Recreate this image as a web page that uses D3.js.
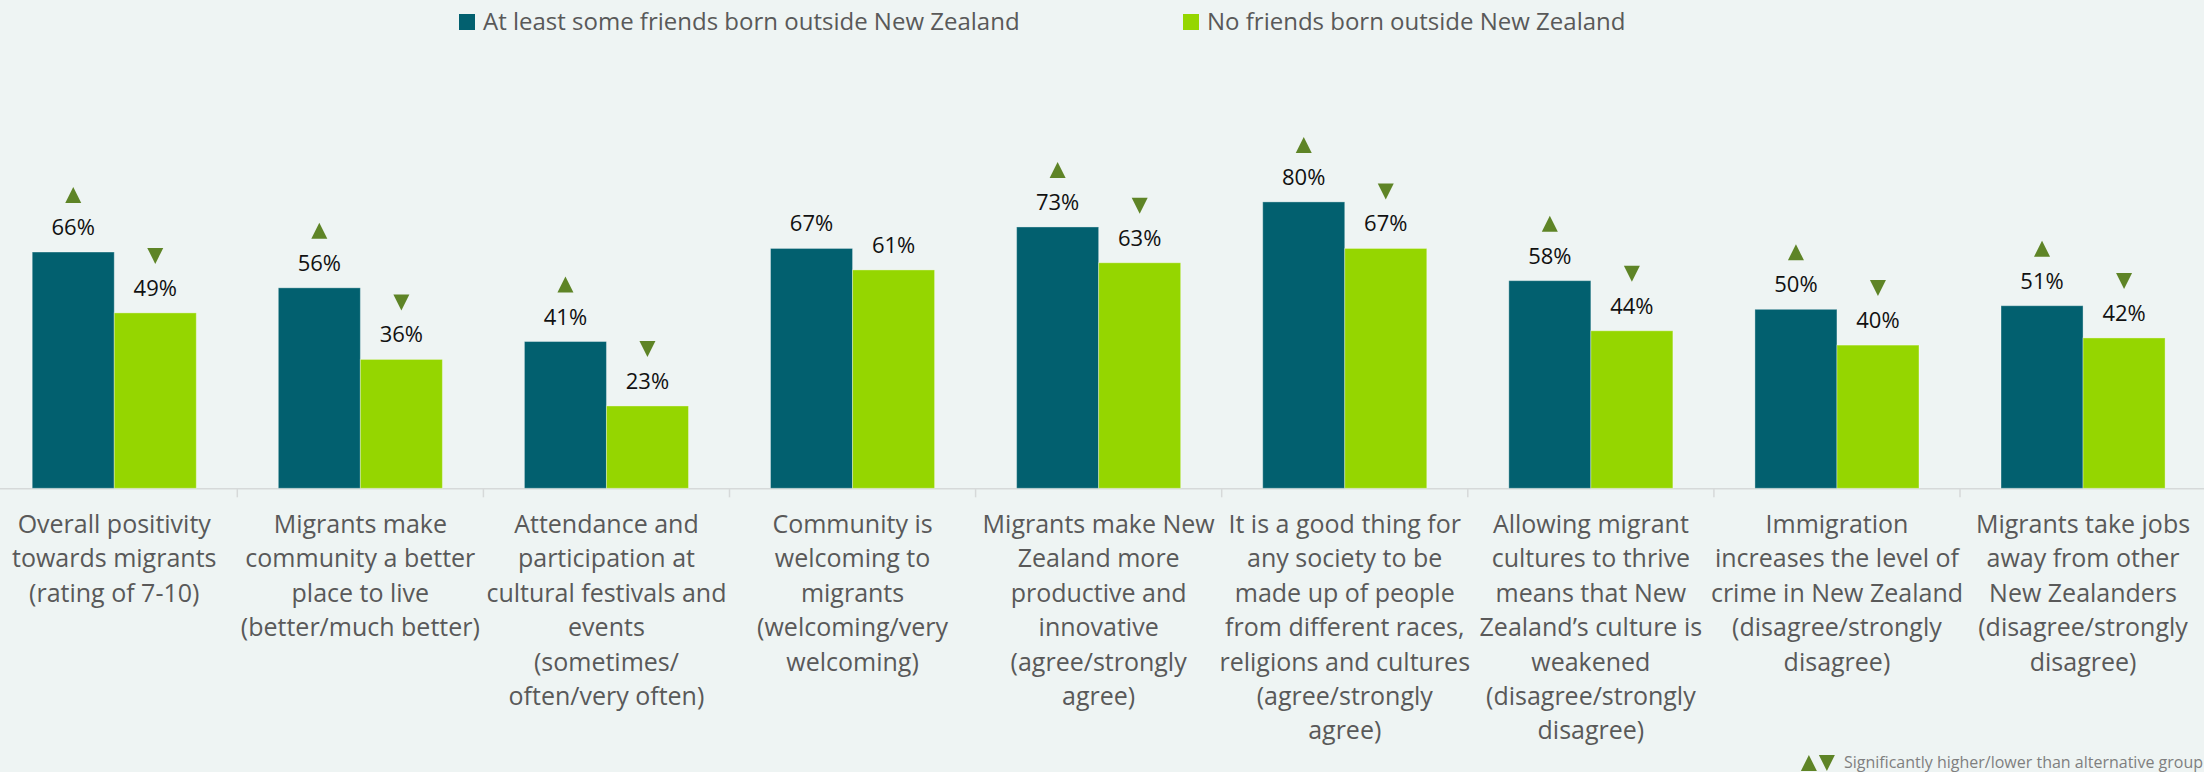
<!DOCTYPE html>
<html>
<head>
<meta charset="utf-8">
<script src="https://cdn.jsdelivr.net/npm/d3@7"></script>
<style>
  html, body { margin: 0; padding: 0; background: #eef4f3; }
  svg { display: block; }
</style>
</head>
<body>
<svg id="chart"></svg>
<script>
// data
const categoryLines = [
  ['Overall positivity', 'towards migrants', '(rating of 7-10)'],
  ['Migrants make', 'community a better', 'place to live', '(better/much better)'],
  ['Attendance and', 'participation at', 'cultural festivals and', 'events', '(sometimes/', 'often/very often)'],
  ['Community is', 'welcoming to', 'migrants', '(welcoming/very', 'welcoming)'],
  ['Migrants make New', 'Zealand more', 'productive and', 'innovative', '(agree/strongly', 'agree)'],
  ['It is a good thing for', 'any society to be', 'made up of people', 'from different races,', 'religions and cultures', '(agree/strongly', 'agree)'],
  ['Allowing migrant', 'cultures to thrive', 'means that New', 'Zealand\u2019s culture is', 'weakened', '(disagree/strongly', 'disagree)'],
  ['Immigration', 'increases the level of', 'crime in New Zealand', '(disagree/strongly', 'disagree)'],
  ['Migrants take jobs', 'away from other', 'New Zealanders', '(disagree/strongly', 'disagree)']
]
const seriesNames = ['At least some friends born outside New Zealand', 'No friends born outside New Zealand']
const someFriends = [66, 56, 41, 67, 73, 80, 58, 50, 51]
const noFriends = [49, 36, 23, 61, 63, 67, 44, 40, 42]
// 1 = significantly higher, -1 = lower, 0 = none
const someSig = [1, 1, 1, 0, 1, 1, 1, 1, 1]
const noSig = [-1, -1, -1, 0, -1, -1, -1, -1, -1]
const footnote = 'Significantly higher/lower than alternative group'

const W = 2204, H = 772
const colors = ['#02606f', '#95d600']
const sigColor = '#5e8426'
const font = '"Open Sans", "Noto Sans", sans-serif'

const svg = d3.select('#chart').attr('width', W).attr('height', H)
svg.append('rect').attr('width', W).attr('height', H).attr('fill', '#eef4f3')

const x = d3.scaleBand()
  .domain(d3.range(categoryLines.length))
  .range([-8.8, 2206.1])
  .padding(0)

const bw = x.bandwidth()
const xs = d3.scaleBand().domain([0, 1]).range([bw / 6, bw * 5 / 6])

const y = d3.scaleLinear().domain([0, 100]).range([488.3, 130.3])

const rows = categoryLines.map((lines, i) => ({
  i,
  lines,
  vals: [
    { s: 0, v: someFriends[i], sig: someSig[i] },
    { s: 1, v: noFriends[i], sig: noSig[i] }
  ]
}))

// axis line + category dividers
svg.append('line')
  .attr('x1', 0).attr('x2', W)
  .attr('y1', y(0) + 0.5).attr('y2', y(0) + 0.5)
  .attr('stroke', '#d6d9d9').attr('stroke-width', 1.5)

svg.selectAll('.tick')
  .data(d3.range(1, categoryLines.length))
  .join('line')
  .attr('class', 'tick')
  .attr('x1', d => x(d)).attr('x2', d => x(d))
  .attr('y1', y(0)).attr('y2', y(0) + 9)
  .attr('stroke', '#d6d9d9').attr('stroke-width', 1.5)

const g = svg.selectAll('.grp')
  .data(rows)
  .join('g')
  .attr('class', 'grp')
  .attr('transform', d => `translate(${x(d.i)},0)`)

const cell = g.selectAll('.cell')
  .data(d => d.vals)
  .join('g')
  .attr('class', 'cell')

cell.append('rect')
  .attr('x', d => xs(d.s))
  .attr('y', d => y(d.v))
  .attr('width', xs.bandwidth())
  .attr('height', d => y(0) - y(d.v))
  .attr('fill', d => colors[d.s])
  .attr('stroke', 'rgba(255,255,255,0.35)')
  .attr('stroke-width', 1)

cell.append('text')
  .attr('x', d => xs(d.s) + xs.bandwidth() / 2)
  .attr('y', d => y(d.v) - 17)
  .attr('text-anchor', 'middle')
  .attr('font-family', font)
  .attr('font-size', 22)
  .attr('fill', '#111')
  .text(d => d.v + '%')

function tri(cx, top, dir) {
  const h = 16, w = 8
  if (dir > 0) return `M${cx - w},${top + h}L${cx + w},${top + h}L${cx},${top}Z`
  return `M${cx - w},${top}L${cx + w},${top}L${cx},${top + h}Z`
}

cell.filter(d => d.sig !== 0)
  .append('path')
  .attr('d', d => tri(xs(d.s) + xs.bandwidth() / 2, y(d.v) - 65, d.sig))
  .attr('fill', sigColor)

// category labels
g.append('text')
  .attr('text-anchor', 'middle')
  .attr('font-family', font)
  .attr('font-size', 25)
  .attr('fill', '#595959')
  .selectAll('tspan')
  .data(d => d.lines)
  .join('tspan')
  .attr('x', bw / 2)
  .attr('y', (d, k) => 533 + k * 34.4)
  .text(d => d)

// legend
const legendX = [459, 1183]
const leg = svg.selectAll('.leg')
  .data(seriesNames)
  .join('g')
  .attr('class', 'leg')
  .attr('transform', (d, i) => `translate(${legendX[i]},0)`)
leg.append('rect')
  .attr('x', 0).attr('y', 14).attr('width', 16).attr('height', 16)
  .attr('fill', (d, i) => colors[i])
leg.append('text')
  .attr('x', 24).attr('y', 30)
  .attr('font-family', font)
  .attr('font-size', 24)
  .attr('fill', '#595959')
  .text(d => d)

// footnote
const fn = svg.append('text')
  .attr('x', 2203).attr('y', 768)
  .attr('text-anchor', 'end')
  .attr('font-family', font)
  .attr('font-size', 16)
  .attr('fill', '#7f7f7f')
  .text(footnote)
const fnLeft = 2203 - fn.node().getComputedTextLength()
svg.append('path').attr('d', tri(fnLeft - 35, 755, 1)).attr('fill', sigColor)
svg.append('path').attr('d', tri(fnLeft - 17, 755, -1)).attr('fill', sigColor)
</script>
</body>
</html>
